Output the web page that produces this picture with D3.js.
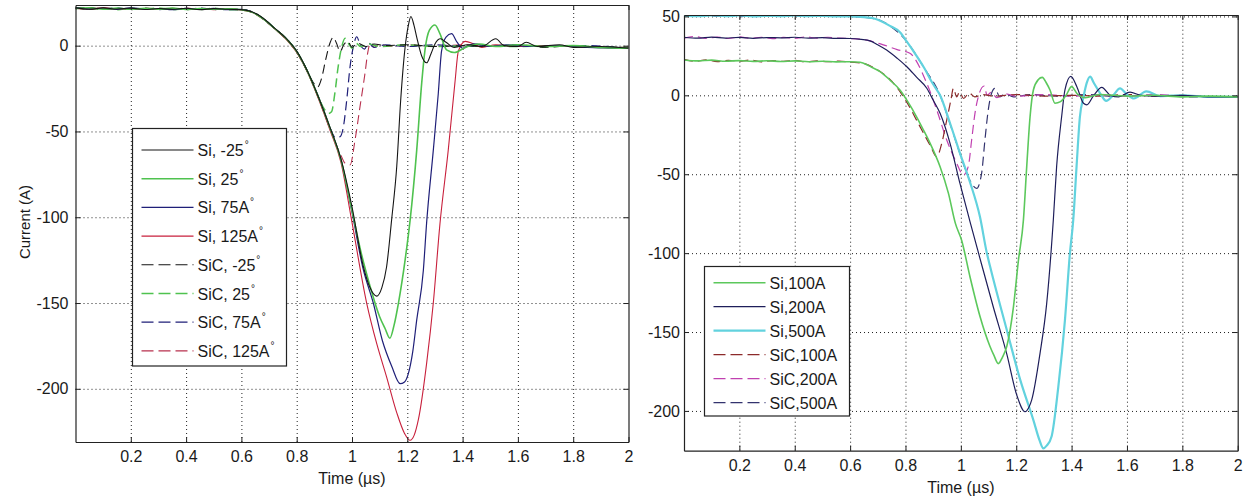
<!DOCTYPE html>
<html>
<head>
<meta charset="utf-8">
<script src="https://cdn.jsdelivr.net/npm/d3@7"></script>
<style>
  body { margin: 0; background: #fff; }
  text { font-family: "Liberation Sans", Arial, sans-serif; fill: #1a1a1a; }
</style>
</head>
<body>
<div id="chart"></div>
<script>
// ---- data (time in us, current in A) ----

var xTicks = [0.2, 0.4, 0.6, 0.8, 1, 1.2, 1.4, 1.6, 1.8, 2];
var yTicksLeft = [0, -50, -100, -150, -200];
var yTicksRight = [50, 0, -50, -100, -150, -200];

// left panel: temperature sweep
var siM25 = [[0,22],[0.05,21.2],[0.1,22],[0.15,21.4],[0.2,21.9],[0.25,21.1],[0.3,21.7],[0.35,21.2],[0.4,21.8],[0.45,21],[0.5,21.6],[0.55,21.2],[0.6,21],[0.64,19.6],[0.68,15.8],[0.72,10.2],[0.76,4.6],[0.8,-3.2],[0.84,-15.2],[0.88,-30.5],[0.92,-47.5],[0.96,-66],[1.0,-94],[1.04,-128],[1.065,-141],[1.089,-146],[1.108,-141],[1.125,-129],[1.143,-102],[1.162,-70],[1.176,-32],[1.192,-1],[1.204,12],[1.213,17],[1.224,12],[1.234,5],[1.252,-6],[1.27,-10],[1.285,-5],[1.3,1],[1.32,4],[1.34,2],[1.37,-1],[1.42,0.5],[1.47,-0.5],[1.52,4],[1.55,0],[1.6,-0.5],[1.63,2],[1.67,-0.5],[1.75,0.5],[1.8,-1],[1.9,-0.5],[2.0,-1.5]];
var si25 = [[0,21.6],[0.05,22.1],[0.1,21.3],[0.15,21.9],[0.2,21.2],[0.25,21.8],[0.3,21.3],[0.35,21.9],[0.4,21.1],[0.45,21.7],[0.5,21.2],[0.55,21.5],[0.6,20.9],[0.64,19.4],[0.68,15.5],[0.72,10],[0.76,4.4],[0.8,-3.4],[0.84,-15.4],[0.88,-30.6],[0.92,-47.8],[0.96,-66.5],[1.0,-96],[1.035,-122],[1.065,-140],[1.1,-158],[1.12,-165],[1.137,-170.5],[1.152,-163],[1.168,-150],[1.192,-125],[1.21,-102],[1.234,-61],[1.252,-22],[1.264,-2.5],[1.28,9],[1.3,12],[1.318,7],[1.342,-2.5],[1.37,-4],[1.41,-1],[1.46,1],[1.52,-0.5],[1.6,0.5],[1.7,-0.5],[1.8,0],[1.9,-1],[2.0,-1.5]];
var si75 = [[0,22.2],[0.05,21.5],[0.1,21.8],[0.15,21.2],[0.2,22],[0.25,21.4],[0.3,21.6],[0.35,21],[0.4,21.7],[0.45,21.3],[0.5,21.7],[0.55,21],[0.6,21.1],[0.64,19.5],[0.68,15.6],[0.72,10.1],[0.76,4.5],[0.8,-3.3],[0.84,-15.3],[0.88,-30.4],[0.92,-47.6],[0.96,-66.4],[1.0,-97],[1.04,-130],[1.077,-150],[1.11,-172],[1.144,-187],[1.174,-197],[1.19,-196],[1.204,-191],[1.22,-178],[1.234,-160],[1.258,-131],[1.27,-103],[1.294,-61],[1.312,-28],[1.324,-3],[1.34,5],[1.36,7],[1.38,2],[1.4,-1.5],[1.44,1],[1.5,-0.5],[1.56,0.5],[1.65,-0.5],[1.75,0],[1.85,-1],[2.0,-1.5]];
var si125 = [[0,21.8],[0.05,21.4],[0.1,22.1],[0.15,21.1],[0.2,21.6],[0.25,21.5],[0.3,21.2],[0.35,21.8],[0.4,21.3],[0.45,21.5],[0.5,21],[0.55,21.4],[0.6,20.8],[0.64,19.3],[0.68,15.3],[0.72,9.8],[0.76,4],[0.8,-4],[0.84,-16],[0.88,-31.5],[0.92,-49],[0.96,-68],[1.0,-103],[1.053,-150],[1.09,-174],[1.125,-193],[1.162,-214],[1.19,-226],[1.21,-230],[1.225,-227],[1.24,-218],[1.27,-185],[1.294,-150],[1.318,-104],[1.348,-61],[1.372,-22],[1.385,-3],[1.41,2.5],[1.44,1],[1.47,-1],[1.52,0.5],[1.6,-0.5],[1.7,0],[1.8,-0.5],[1.9,-1],[2.0,-1.5]];
var sicM25 = [[0,21.5],[0.05,22.2],[0.1,21.2],[0.15,21.7],[0.2,21],[0.25,21.9],[0.3,21.1],[0.35,21.6],[0.4,20.9],[0.45,21.8],[0.5,21],[0.55,21.6],[0.6,20.9],[0.64,19.8],[0.68,15.5],[0.72,10],[0.76,4.2],[0.8,-3.5],[0.84,-15.5],[0.862,-22],[0.875,-24.2],[0.89,-19],[0.905,-8],[0.92,1.4],[0.932,4.9],[0.944,1.4],[0.957,-3.5],[0.97,0.5],[0.985,2.5],[1.0,-1],[1.02,1.5],[1.05,-0.5],[1.08,1],[1.12,0],[1.2,0.5],[1.3,-0.5],[1.4,0],[1.5,-0.5],[1.6,0.5],[1.7,-1],[1.8,0],[1.9,-1],[2.0,-1]];
var sic25 = [[0,22.3],[0.05,21.3],[0.1,21.7],[0.15,21],[0.2,21.8],[0.25,21.3],[0.3,21.9],[0.35,21],[0.4,21.5],[0.45,21.1],[0.5,21.8],[0.55,20.9],[0.6,21],[0.64,19.5],[0.68,15.7],[0.72,10.1],[0.76,4.4],[0.8,-3.4],[0.84,-15.4],[0.88,-30.5],[0.9,-37],[0.915,-39.5],[0.926,-38.5],[0.938,-27.7],[0.95,-12.2],[0.963,-0.6],[0.975,4.3],[0.987,1.4],[1.0,-1.5],[1.015,1.5],[1.03,-0.5],[1.06,1],[1.1,-0.5],[1.2,0.5],[1.3,-0.5],[1.45,0],[1.6,-0.5],[1.75,0],[1.9,-1],[2.0,-1]];
var sic75 = [[0,21.7],[0.05,21.9],[0.1,21.4],[0.15,22],[0.2,21.3],[0.25,21.6],[0.3,21],[0.35,21.5],[0.4,21.2],[0.45,21.9],[0.5,21.3],[0.55,21.3],[0.6,21],[0.64,19.6],[0.68,15.6],[0.72,10.2],[0.76,4.5],[0.8,-3.3],[0.84,-15.3],[0.88,-30.5],[0.92,-47.6],[0.94,-53.5],[0.957,-53],[0.969,-47.2],[0.981,-31.6],[0.993,-12.2],[1.005,-0.6],[1.017,5.2],[1.03,0.4],[1.045,-2],[1.06,1.5],[1.08,-1],[1.12,0.5],[1.2,-0.5],[1.3,0.5],[1.4,-0.5],[1.55,0],[1.7,-0.5],[1.85,0],[2.0,-1.5]];
var sic125 = [[0,21.9],[0.05,21.1],[0.1,21.9],[0.15,21.5],[0.2,21.2],[0.25,21.8],[0.3,21.4],[0.35,21.1],[0.4,21.9],[0.45,21.2],[0.5,21.4],[0.55,21.1],[0.6,20.9],[0.64,19.4],[0.68,15.4],[0.72,9.9],[0.76,4.2],[0.8,-3.8],[0.84,-15.8],[0.88,-31],[0.92,-48.5],[0.96,-64],[0.975,-68.5],[0.993,-69.5],[1.011,-55],[1.029,-35.5],[1.047,-16.1],[1.057,-4],[1.067,1.5],[1.08,-1],[1.1,1],[1.13,-0.5],[1.2,0.5],[1.3,-0.5],[1.4,0.5],[1.5,-0.5],[1.65,0],[1.8,-0.5],[1.9,-1],[2.0,-1]];

// right panel: current sweep
var si100 = [[0,22.4],[0.05,21.8],[0.1,22.3],[0.15,21.6],[0.2,22],[0.25,21.5],[0.3,21.9],[0.35,21.4],[0.4,21.8],[0.45,21.3],[0.5,21.6],[0.55,21.2],[0.6,21.3],[0.636,21],[0.67,18.5],[0.708,15],[0.745,9.5],[0.78,3.4],[0.81,-4.5],[0.84,-13.6],[0.865,-22],[0.889,-30.4],[0.925,-45.2],[0.955,-62],[0.98,-81],[1.003,-92],[1.033,-115],[1.069,-140],[1.105,-159],[1.12,-165],[1.135,-170],[1.15,-166],[1.166,-159],[1.19,-134],[1.208,-104.5],[1.226,-79],[1.238,-45],[1.25,-13.6],[1.262,3.4],[1.28,10],[1.294,11.4],[1.31,7.5],[1.322,3.4],[1.34,-5],[1.36,-4],[1.38,0],[1.4,5.5],[1.42,1],[1.45,-1.5],[1.5,0.5],[1.6,-0.5],[1.7,0],[1.8,-1],[1.9,-0.5],[2.0,-1]];
var si200 = [[0,36.8],[0.05,36.2],[0.1,36.9],[0.15,36.3],[0.2,36.7],[0.25,36.1],[0.3,36.6],[0.35,36.4],[0.4,36.8],[0.45,36.2],[0.5,36.5],[0.55,36.1],[0.6,36],[0.64,35.4],[0.672,34.5],[0.7,32],[0.732,28.7],[0.77,23.5],[0.805,18.1],[0.84,11.5],[0.877,4.5],[0.9,-3],[0.925,-11.4],[0.961,-30.4],[0.997,-56],[1.033,-80],[1.067,-102],[1.117,-134],[1.166,-164],[1.202,-190],[1.232,-200.5],[1.245,-198],[1.256,-193],[1.286,-163.5],[1.31,-132],[1.334,-79],[1.346,-45],[1.364,-13.6],[1.376,3.4],[1.397,12],[1.419,5.5],[1.443,-5],[1.455,-6],[1.48,0],[1.509,5],[1.54,0],[1.57,-1],[1.611,2],[1.65,0],[1.7,-0.5],[1.8,0],[1.9,-1],[2.0,-1]];
var si500 = [[0,50.5],[0.05,50.1],[0.1,50.7],[0.15,50.2],[0.2,50.6],[0.25,50],[0.3,50.4],[0.35,50.1],[0.4,50.6],[0.45,50.2],[0.5,50.4],[0.55,50],[0.6,50],[0.65,49.5],[0.69,48.5],[0.744,44],[0.78,40],[0.805,34],[0.84,25],[0.865,18.1],[0.9,7],[0.925,0],[0.961,-17.7],[0.997,-36.8],[1.033,-55],[1.069,-77],[1.094,-100],[1.105,-108],[1.166,-148.7],[1.214,-180],[1.262,-205.8],[1.285,-219],[1.298,-223.7],[1.31,-222],[1.328,-216],[1.352,-184.7],[1.376,-142.4],[1.394,-100],[1.406,-79],[1.418,-45],[1.43,-13.6],[1.443,-1],[1.455,8],[1.467,11.8],[1.48,8],[1.503,1.3],[1.525,-3.5],[1.55,0],[1.575,4.4],[1.6,0.5],[1.625,-2],[1.67,2.5],[1.72,-0.5],[1.8,0],[1.9,-1],[2.0,-1]];
var sic100 = [[0,22.8],[0.04,21.5],[0.08,22.5],[0.12,21.3],[0.16,22.2],[0.2,21.6],[0.24,22.4],[0.28,21.2],[0.32,22],[0.36,21.5],[0.4,22.1],[0.44,21.2],[0.48,21.9],[0.52,21.3],[0.56,21.7],[0.6,21],[0.64,20.5],[0.7,16],[0.76,7],[0.8,-3],[0.853,-20],[0.89,-32],[0.913,-39],[0.931,-30.4],[0.949,-15.7],[0.964,-3],[0.973,4.4],[0.985,-1],[0.995,2],[1.01,-2],[1.03,1.5],[1.05,-1],[1.08,0.5],[1.12,-0.5],[1.2,0.5],[1.3,-0.5],[1.4,0],[1.5,-0.5],[1.6,0.5],[1.7,-0.5],[1.8,0],[1.9,-1],[2.0,-1]];
var sic200 = [[0,36.3],[0.04,37.2],[0.08,36.1],[0.12,36.9],[0.16,36],[0.2,37],[0.24,36.2],[0.28,36.8],[0.32,35.9],[0.36,36.7],[0.4,36.1],[0.44,37],[0.48,36.3],[0.52,36.8],[0.56,36.2],[0.6,36],[0.66,35],[0.72,32],[0.77,29],[0.816,26.6],[0.877,7.6],[0.913,-9.3],[0.949,-28.3],[0.985,-43],[1.009,-50.5],[1.027,-45],[1.039,-28.3],[1.051,-11.4],[1.063,-0.9],[1.084,5.9],[1.095,0],[1.11,2],[1.13,-1.5],[1.16,1],[1.2,-0.5],[1.3,0.5],[1.4,-0.5],[1.5,0],[1.6,-0.5],[1.7,0.5],[1.8,-0.5],[1.9,-1],[2.0,-1]];
var sic500 = [[0,50.8],[0.04,49.9],[0.08,50.9],[0.12,50.1],[0.16,50.7],[0.2,49.8],[0.24,50.6],[0.28,50],[0.32,50.8],[0.36,50.2],[0.4,50.5],[0.44,49.9],[0.48,50.7],[0.52,50],[0.56,50.4],[0.6,50],[0.69,48.5],[0.744,44],[0.805,34],[0.865,18],[0.925,0],[0.961,-18],[0.997,-37],[1.033,-54],[1.057,-59],[1.075,-49.4],[1.087,-28.3],[1.099,-9.3],[1.111,1.3],[1.123,4.4],[1.141,-1],[1.16,1],[1.19,-1],[1.25,0.5],[1.35,-0.5],[1.45,0.5],[1.55,-0.5],[1.65,0],[1.75,-0.5],[1.85,-1],[2.0,-1]];

var leftNames = ["Si, -25", "Si, 25", "Si, 75A", "Si, 125A", "SiC, -25", "SiC, 25", "SiC, 75A", "SiC, 125A"];
var rightNames = ["Si,100A", "Si,200A", "Si,500A", "SiC,100A", "SiC,200A", "SiC,500A"];

// ---- styles ----
var leftSeries = [
  {data: siM25, color: "#151515", dash: null, w: 1.1},
  {data: si25, color: "#4fc24f", dash: null, w: 1.6},
  {data: si75, color: "#1f1f78", dash: null, w: 1.2},
  {data: si125, color: "#c8203c", dash: null, w: 1.1},
  {data: sicM25, color: "#151515", dash: "9,5", w: 1.1},
  {data: sic25, color: "#4fc24f", dash: "9,5", w: 1.5},
  {data: sic75, color: "#1f1f78", dash: "9,5", w: 1.2},
  {data: sic125, color: "#b8304e", dash: "9,5", w: 1.1}
];
var rightSeries = [
  {data: si100, color: "#5cc85c", dash: null, w: 1.6},
  {data: si200, color: "#1e1e5a", dash: null, w: 1.2},
  {data: si500, color: "#62d2de", dash: null, w: 2.2},
  {data: sic100, color: "#8c2a2a", dash: "9,5", w: 1.2},
  {data: sic200, color: "#c040b0", dash: "9,5", w: 1.2},
  {data: sic500, color: "#33336e", dash: "9,5", w: 1.2}
];

var svgWidth = 1243;
var svgHeight = 500;

var svg = d3.select("#chart")
  .append("svg")
  .attr("width", svgWidth)
  .attr("height", svgHeight);

function drawPanel(p) {
  var x = d3.scaleLinear().domain([0, 2]).range([p.x0, p.x1]);
  var y = d3.scaleLinear().domain(p.yDomain).range([p.y1, p.y0]);
  var g = svg.append("g");

  // dotted grid
  g.append("g")
    .attr("transform", `translate(0, ${p.y1})`)
    .call(d3.axisBottom(x).tickValues(xTicks.slice(0, -1)).tickSize(-(p.y1 - p.y0)).tickFormat(""))
    .call(s => s.select(".domain").remove())
    .selectAll("line").attr("stroke", "#222").attr("stroke-dasharray", "1,3");
  g.append("g")
    .attr("transform", `translate(${p.x0}, 0)`)
    .call(d3.axisLeft(y).tickValues(p.yTicks).tickSize(-(p.x1 - p.x0)).tickFormat(""))
    .call(s => s.select(".domain").remove())
    .selectAll("line").attr("stroke", "#222").attr("stroke-dasharray", "1,3");

  // curves
  var clipId = "clip" + p.id;
  svg.append("clipPath").attr("id", clipId)
    .append("rect").attr("x", p.x0).attr("y", p.y0)
    .attr("width", p.x1 - p.x0).attr("height", p.y1 - p.y0 + 1);

  var line = d3.line()
    .x(d => x(d[0]))
    .y(d => y(d[1]))
    .curve(d3.curveMonotoneX);

  var lg = g.append("g").attr("clip-path", `url(#${clipId})`);
  p.series.slice().reverse().forEach(function(s) {
    lg.append("path")
      .attr("d", line(s.data))
      .attr("fill", "none")
      .attr("stroke", s.color)
      .attr("stroke-width", s.w)
      .attr("stroke-dasharray", s.dash)
      .attr("stroke-linejoin", "round");
  });

  // axes with inward ticks, box on all four sides
  var bottom = g.append("g")
    .attr("transform", `translate(0, ${p.y1})`)
    .call(d3.axisBottom(x).tickValues(xTicks).tickSize(-5).tickSizeOuter(0).tickPadding(9).tickFormat(d => String(d)));
  var left = g.append("g")
    .attr("transform", `translate(${p.x0}, 0)`)
    .call(d3.axisLeft(y).tickValues(p.yTicks).tickSize(-5).tickSizeOuter(0).tickPadding(p.pad).tickFormat(d => String(d)));
  var top = g.append("g")
    .attr("transform", `translate(0, ${p.y0})`)
    .call(d3.axisTop(x).tickValues(xTicks).tickSize(-5).tickSizeOuter(0).tickFormat(""));
  var right = g.append("g")
    .attr("transform", `translate(${p.x1}, 0)`)
    .call(d3.axisRight(y).tickValues(p.yTicks).tickSize(-5).tickSizeOuter(0).tickFormat(""));

  [bottom, left, top, right].forEach(function(a) {
    a.select(".domain").attr("stroke", "#222").attr("stroke-width", 1.2);
    a.selectAll(".tick line").attr("stroke", "#222");
    a.selectAll("text")
      .attr("font-size", 16)
      .attr("font-family", "'Liberation Sans', Arial, sans-serif")
      .attr("fill", "#1a1a1a");
  });

  g.append("text")
    .attr("x", (p.x0 + p.x1) / 2)
    .attr("y", p.y1 + 42)
    .attr("text-anchor", "middle")
    .attr("font-size", 16)
    .text("Time (\u00b5s)");

  // legend
  var lgd = g.append("g");
  lgd.append("rect")
    .attr("x", p.legend.x).attr("y", p.legend.y)
    .attr("width", p.legend.w).attr("height", p.legend.h)
    .attr("fill", "#fff").attr("stroke", "#222").attr("stroke-width", 1.2);
  p.series.forEach(function(s, i) {
    var cy = p.legend.row0 + i * p.legend.step;
    lgd.append("line")
      .attr("x1", p.legend.x + 9).attr("x2", p.legend.x + 61)
      .attr("y1", cy).attr("y2", cy)
      .attr("stroke", s.color).attr("stroke-width", s.w)
      .attr("stroke-dasharray", s.dash ? "12,5" : null);
    var t = lgd.append("text")
      .attr("x", p.legend.x + 65)
      .attr("y", cy + 6)
      .attr("font-size", 16)
      .text(p.names[i]);
    if (p.degree) {
      t.append("tspan").attr("font-size", 10).attr("dy", -8).attr("dx", 1).text("\u00b0");
    }
  });
}

drawPanel({
  id: "L", x0: 75.5, x1: 628.5, y0: 5, y1: 442, yDomain: [-231, 23.7],
  yTicks: yTicksLeft, pad: 7, series: leftSeries, names: leftNames, degree: true,
  legend: {x: 132.5, y: 128.5, w: 154, h: 237.5, row0: 150, step: 28.7}
});
drawPanel({
  id: "R", x0: 684, x1: 1237.7, y0: 15, y1: 450.7, yDomain: [-225.2, 50.9],
  yTicks: yTicksRight, pad: 4, series: rightSeries, names: rightNames, degree: false,
  legend: {x: 704.5, y: 266.5, w: 145, h: 149.5, row0: 282.7, step: 24}
});

// y axis title, left panel only
svg.append("text")
  .attr("transform", "translate(30, 222) rotate(-90)")
  .attr("text-anchor", "middle")
  .attr("font-size", 15)
  .text("Current (A)");
</script>
</body>
</html>
